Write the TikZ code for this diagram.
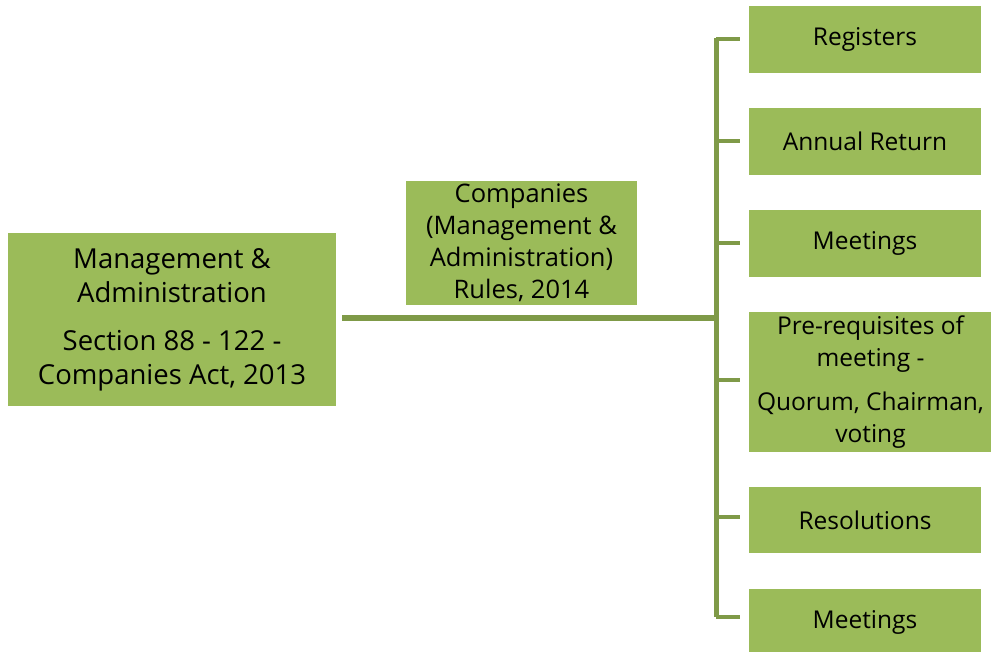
\documentclass[tikz,border=0pt]{standalone}
\usepackage{fontspec}
\setmainfont{Open Sans}
\definecolor{boxgreen}{RGB}{155,187,89}
\definecolor{linegreen}{RGB}{127,154,72}
\tikzset{
  greenbox/.style={rectangle, fill=boxgreen, inner sep=0pt, align=center,
    font=\fontsize{24.5}{32}\selectfont},
  trunk/.style={draw=linegreen, line width=6pt},
  spine/.style={draw=linegreen, line width=5pt},
  branch/.style={draw=linegreen, line width=4pt}
}
\begin{document}
\begin{tikzpicture}[x=1pt, y=-1pt]
  \useasboundingbox (0,0) rectangle (991,652);
  \clip (0,0) rectangle (991,652);

  \node[greenbox, minimum width=328pt, minimum height=173pt,
    font=\fontsize{27.5}{34}\selectfont] (mgmt) at (172,319.5)
    {Management \&\\Administration\\[14pt]Section 88 - 122 -\\Companies Act, 2013};
  \node[greenbox, minimum width=231pt, minimum height=124pt,
    font=\fontsize{25.5}{32}\selectfont] (rules) at (521.5,243)
    {Companies\\(Management \&\\Administration)\\Rules, 2014};

  \node[greenbox, minimum width=232pt, minimum height=67pt] (reg) at (865,39.5) {Registers};
  \node[greenbox, minimum width=232pt, minimum height=67pt] (annual) at (865,141.5) {Annual Return};
  \node[greenbox, minimum width=232pt, minimum height=67pt] (meet) at (865,243.5) {Meetings};
  \node[greenbox, minimum width=243pt, minimum height=140pt] (prereq) at (870.5,382)
    {Pre-requisites of\\meeting -\\[12pt]Quorum, Chairman,\\voting};
  \node[greenbox, minimum width=232pt, minimum height=66pt] (resol) at (865,520) {Resolutions};
  \node[greenbox, minimum width=232pt, minimum height=67pt] (meettwo) at (865,622.5) {Meetings};

  \coordinate (hub) at (716,318);
  \draw[trunk] ([xshift=6pt]mgmt.east |- hub) -- (hub);
  \draw[spine] ([yshift=1pt]reg.west -| hub) -- ([yshift=5.5pt]meettwo.west -| hub);
  \foreach \n/\dy in {reg/0, annual/0, meet/0, prereq/2, resol/3, meettwo/5.5}
    \draw[branch] ([yshift=\dy pt]\n.west -| hub) -- ([xshift=-9pt, yshift=\dy pt]\n.west);
\end{tikzpicture}
\end{document}
